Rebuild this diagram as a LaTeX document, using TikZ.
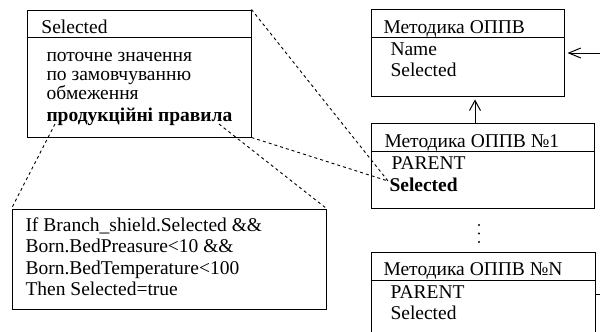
\documentclass[tikz,border=0pt]{standalone}
\usepackage{fontspec}
\setmainfont{Liberation Serif}
\usetikzlibrary{arrows.meta}

\begin{document}
\begin{tikzpicture}[x=1pt, y=-1pt, line width=1pt,
    box/.style={draw, rectangle, inner sep=0pt},
    txt/.style={anchor=base west, inner sep=0pt, font=\fontsize{19.5}{20}\selectfont},
    link/.style={line width=0.9pt, dash pattern=on 3pt off 3pt}]
    \useasboundingbox (0,0) rectangle (600,332);
    \clip (0,0) rectangle (600,332);

    % Властивість Selected
    \node[box, minimum width=224pt, minimum height=127pt] (sel) at (139,73.5) {};
    \draw (sel.north west) ++(0,28) -- ++(224,0);
    \node[txt] (selH) at (41,33) {Selected};
    \node[txt] (selA) at (46,61) {поточне значення};
    \node[txt] (selB) at (46,80) {по замовчуванню};
    \node[txt] (selC) at (46,99) {обмеження};
    \node[txt] (selD) at (46,121) {\bfseries продукційні правила};

    % Продукційне правило
    \node[box, minimum width=314pt, minimum height=100pt] (rule) at (169,259) {};
    \node[txt] (ruleA) at (25,231) {If Branch\_shield.Selected \&\&};
    \node[txt] (ruleB) at (25,252) {Born.BedPreasure<10 \&\&};
    \node[txt] (ruleC) at (25,274) {Born.BedTemperature<100};
    \node[txt] (ruleD) at (25,295) {Then Selected=true};

    % Методика ОППВ
    \node[box, minimum width=193pt, minimum height=87pt] (base) at (467.5,52.5) {};
    \draw (base.north west) ++(0,29) -- ++(193,0);
    \node[txt] (baseH) at (383,33) {Методика ОППВ};
    \node[txt] (baseA) at (390,55) {Name};
    \node[txt] (baseB) at (390,76) {Selected};

    % Методика ОППВ №1
    \node[box, minimum width=223pt, minimum height=85pt] (m1) at (482.5,165.5) {};
    \draw (m1.north west) ++(0,29) -- ++(223,0);
    \node[txt] (m1H) at (384,147) {Методика ОППВ №1};
    \node[txt] (m1A) at (391,169) {PARENT};
    \node[txt] (m1B) at (389,191) {\bfseries Selected};

    % Методика ОППВ №N
    \node[box, minimum width=224pt, minimum height=108pt] (mN) at (483,306) {};
    \draw (mN.north west) ++(0,29) -- ++(224,0);
    \node[txt] (mNH) at (383,275) {Методика ОППВ №N};
    \node[txt] (mNA) at (390,298) {PARENT};
    \node[txt] (mNB) at (390,319) {Selected};

    \foreach \y in {225,233.5,242}
        \fill (479,\y) circle (1.2pt);

    % Зв'язки
    \coordinate (in) at (600,53);
    \coordinate (out) at (600,294);
    \draw[-{Straight Barb[length=12pt,width=10pt]}, shorten >=3pt] (in) -- (base.east |- in);
    \draw[-{Straight Barb[length=10pt,width=11pt]}, shorten >=3pt]
        ([xshift=-7.5pt]m1.north) -- ([xshift=-7.5pt]m1.north |- base.south);
    \draw (mN.east |- out) -- (out);

    \coordinate (tgt) at (388,181);
    \coordinate (p1) at (55,124);
    \coordinate (p2) at (219,124);
    \draw[link] (sel.north east) -- (tgt);
    \draw[link] (sel.south east) -- (tgt);
    \draw[link] (p1) -- (rule.north west);
    \draw[link] (p2) -- (rule.north east);
\end{tikzpicture}
\end{document}
